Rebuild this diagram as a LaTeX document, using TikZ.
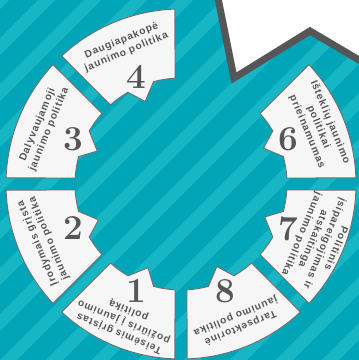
\documentclass[tikz,border=0pt]{standalone}
\usepackage{fontspec}
\newfontfamily\lab{Liberation Sans Bold}[LetterSpace=8]
\definecolor{bgteal}{HTML}{00A6B8}
\definecolor{stripeteal}{HTML}{17B6C5}
\definecolor{darkgray}{HTML}{555658}
\definecolor{segfill}{HTML}{F6F6F6}
\definecolor{segline}{HTML}{6D6E70}
\tikzset{
  segbox/.style={fill=segfill,draw=segline,line width=0.9pt,line join=miter},
  numlabel/.style={inner sep=0pt,text=darkgray,font=\fontsize{35}{35}\selectfont\bfseries},
  seglabel/.style={inner sep=0pt,align=center,text=darkgray,font=\fontsize{10.2}{12.4}\selectfont\lab}
}
\tikzset{polyline/.style={draw=darkgray,line width=7pt,line join=miter,fill=white}}
\begin{document}
\begin{tikzpicture}[x=1pt,y=1pt]
\useasboundingbox (0,0) rectangle (359,360);
\fill[bgteal] (0,0) rectangle (359,360);
\begin{scope}
\clip (0,0) rectangle (359,360);
\foreach \i in {-9,...,9}
  \fill[stripeteal] ({\i*46},0) -- ++(17,0) -- ++(360,360) -- ++(-17,0) -- cycle;
\draw[polyline] (216,372) -- (234,282) -- (310,329) -- (380,287.6) -- (380,372) -- cycle;
\end{scope}
\begin{scope}[shift={(181,176)}]
\foreach \a/\n/\txt in {
  225/1/{Teisėmis grįstas\\požiūris į jaunimo\\politiką},
  180/2/{Įrodymais grįsta\\jaunimo politika},
  135/3/{Dalyvaujamoji\\jaunimo politika},
  90/4/{Daugiapakopė\\jaunimo politika},
  0/6/{Išteklių jaunimo\\politikai\\prieinamumas},
  315/7/{Politinis\\įsipareigojimas ir\\atskaitinga\\jaunimo politika},
  270/8/{Tarpsektorinė\\jaunimo politika}}
{
  \filldraw[segbox] ({\a+2}:175) arc[start angle={\a+2}, end angle={\a+43}, radius=175]
    -- ({\a+41.75}:106) arc[start angle={\a+41.75}, end angle={\a+30}, radius=106]
    -- ({\a+23.5}:90) -- ({\a+15}:106)
    arc[start angle={\a+15}, end angle={\a+3.25}, radius=106] -- cycle;
  \node[numlabel] (n\n) at ({\a+22.5}:116) {\n};
  \node[seglabel, rotate={\a-67.5}] (t\n) at ({\a+22.5}:149) {\txt};
}
\end{scope}
\end{tikzpicture}
\end{document}
